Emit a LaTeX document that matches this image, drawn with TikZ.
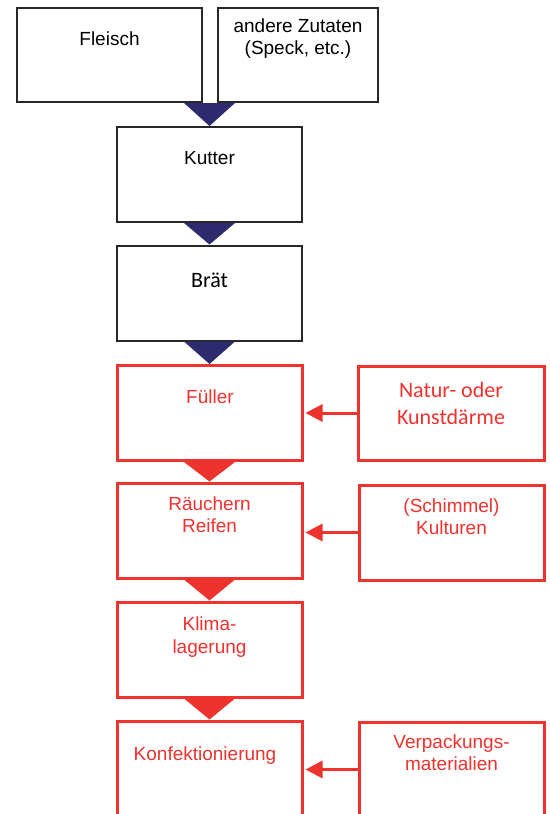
\documentclass[tikz,border=0pt]{standalone}
\usepackage{fontspec}
\setmainfont{Liberation Sans}
\newfontfamily\calib{Carlito}
\usetikzlibrary{arrows.meta}
\definecolor{fred}{RGB}{238,50,46}
\definecolor{fnavy}{RGB}{46,42,110}
\definecolor{fgray}{RGB}{40,40,40}
\begin{document}
\begin{tikzpicture}[x=1pt,y=-1pt,
  box/.style={rectangle, inner sep=0pt, minimum width=185pt, minimum height=95pt},
  bbox/.style={box, draw=fgray, line width=2pt},
  rbox/.style={box, draw=fred, line width=3pt},
  txt/.style={anchor=base, inner sep=0pt, font=\fontsize{19}{22}\selectfont},
  ctxt/.style={anchor=base, inner sep=0pt, font=\calib\fontsize{22}{27}\selectfont},
  rtxt/.style={txt, text=fred},
  navytri/.style={fill=fnavy},
  redtri/.style={fill=fred},
  arr/.style={draw=fred, line width=3pt, -{Triangle[length=17pt,width=17pt]}, shorten >=2pt}
]
\useasboundingbox (0,0) rectangle (549,814);
\begin{scope}
\clip (0,0) rectangle (549,814);
% boxes
\node[bbox, minimum width=185pt, minimum height=94pt] (fleisch) at (109.5,55) {};
\node[bbox, minimum width=160pt, minimum height=94pt] (zutaten) at (298,55) {};
\node[bbox] (kutter) at (209.5,174.5) {};
\node[bbox] (brat) at (209.5,293) {};
\node[rbox] (fueller) at (209.5,413) {};
\node[rbox, minimum width=186pt, minimum height=94pt] (natur) at (451,413) {};
\node[rbox] (raeuchern) at (209.5,530.5) {};
\node[rbox] (schimmel) at (451.5,532.5) {};
\node[rbox] (klima) at (209.5,649.5) {};
\node[rbox, minimum height=97pt] (konf) at (209.5,769.5) {};
\node[rbox] (verpack) at (451.5,769.5) {};
% texts
\node[txt] (t1) at (109.5,45) {Fleisch};
\node[txt] (t2a) at (298,32) {andere Zutaten};
\node[txt] (t2b) at (298,54) {(Speck, etc.)};
\node[txt] (t3) at (209.5,164) {Kutter};
\node[ctxt] (t4) at (209.5,287) {Brät};
\node[rtxt] (t5) at (210,403) {Füller};
\node[ctxt, text=fred] (t6a) at (451,397) {Natur- oder};
\node[ctxt, text=fred] (t6b) at (451,424) {Kunstdärme};
\node[rtxt] (t7a) at (209.5,510) {Räuchern};
\node[rtxt] (t7b) at (209.5,532) {Reifen};
\node[rtxt] (t8a) at (451.5,512) {(Schimmel)};
\node[rtxt] (t8b) at (451.5,534) {Kulturen};
\node[rtxt] (t9a) at (209.5,630) {Klima-};
\node[rtxt] (t9b) at (209.5,653) {lagerung};
\node[rtxt] (t10) at (205,760) {Konfektionierung};
\node[rtxt] (t11a) at (451.5,748) {Verpackungs-};
\node[rtxt] (t11b) at (451.5,770) {materialien};
% triangles
\coordinate (c1) at (kutter.north |- fleisch.south);
\fill[navytri] ([xshift=-25.5pt]c1) -- ([xshift=25.5pt]c1) -- (kutter.north) -- cycle;
\fill[navytri] ([xshift=-25.5pt]kutter.south) -- ([xshift=25.5pt]kutter.south) -- (brat.north) -- cycle;
\fill[navytri] ([xshift=-25.5pt]brat.south) -- ([xshift=25.5pt]brat.south) -- (fueller.north) -- cycle;
\fill[redtri] ([xshift=-25.5pt]fueller.south) -- ([xshift=25.5pt]fueller.south) -- (raeuchern.north) -- cycle;
\fill[redtri] ([xshift=-25.5pt]raeuchern.south) -- ([xshift=25.5pt]raeuchern.south) -- (klima.north) -- cycle;
\fill[redtri] ([xshift=-25.5pt]klima.south) -- ([xshift=25.5pt]klima.south) -- (konf.north) -- cycle;
% side arrows
\draw[arr] (natur.west) -- (natur.west -| fueller.east);
\draw[arr] (schimmel.west) -- (schimmel.west -| raeuchern.east);
\draw[arr] (verpack.west) -- (verpack.west -| konf.east);
\end{scope}
\end{tikzpicture}
\end{document}
